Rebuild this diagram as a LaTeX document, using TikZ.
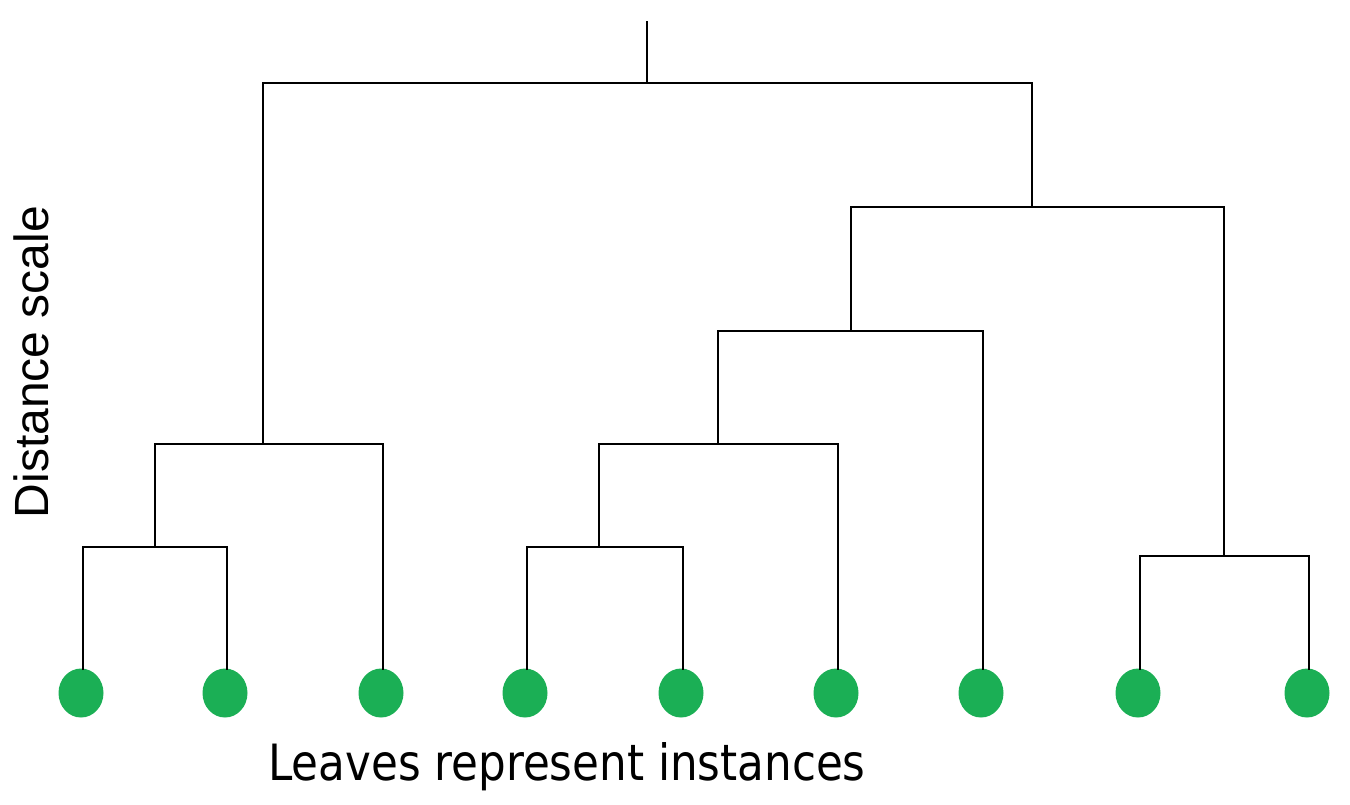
\documentclass[tikz,border=0pt]{standalone}
\usepackage{fontspec}
\setmainfont{DejaVu Sans Condensed}
\newfontfamily\leftfont{Liberation Sans}
\definecolor{leafgreen}{HTML}{1BAF55}
\begin{document}
\begin{tikzpicture}[x=1pt,y=-1pt,
  link/.style={draw=black,line width=2pt},
  leaffill/.style={fill=leafgreen}]
\useasboundingbox (0,0) rectangle (1350,804);
% leaves
\foreach \n/\x in {1/81,2/225,3/381,4/525,5/681,6/836,7/981,8/1138,9/1307}{
  \coordinate (l\n) at (\x,693);
  \fill[leaffill] (l\n) ellipse [x radius=22.5pt, y radius=24.5pt];
  \coordinate (t\n) at (\x+2,670);
}
% internal joints
\coordinate (A) at (155,547);
\coordinate (B) at (263,444);
\coordinate (C) at (599,547);
\coordinate (D) at (718,444);
\coordinate (E) at (851,331);
\coordinate (F) at (1224,556);
\coordinate (G) at (1032,207);
\coordinate (H) at (647,83);
\coordinate (R) at (647,21);
% links
\draw[link] (t1) |- (A) -| (t2);
\draw[link] (A) |- (B) -| (t3);
\draw[link] (t4) |- (C) -| (t5);
\draw[link] (C) |- (D) -| (t6);
\draw[link] (D) |- (E) -| (t7);
\draw[link] (t8) |- (F) -| (t9);
\draw[link] (E) |- (G) -| (F);
\draw[link] (B) |- (H) -| (G);
\draw[link] (H) -- (R);
% labels
\node[anchor=center,font=\fontsize{50}{58}\selectfont,xscale=0.97] (xl) at (567,767) {Leaves represent instances};
\node[anchor=center,rotate=90,font=\leftfont\fontsize{48}{56}\selectfont] (yl) at (31,362) {Distance scale};
\end{tikzpicture}
\end{document}
